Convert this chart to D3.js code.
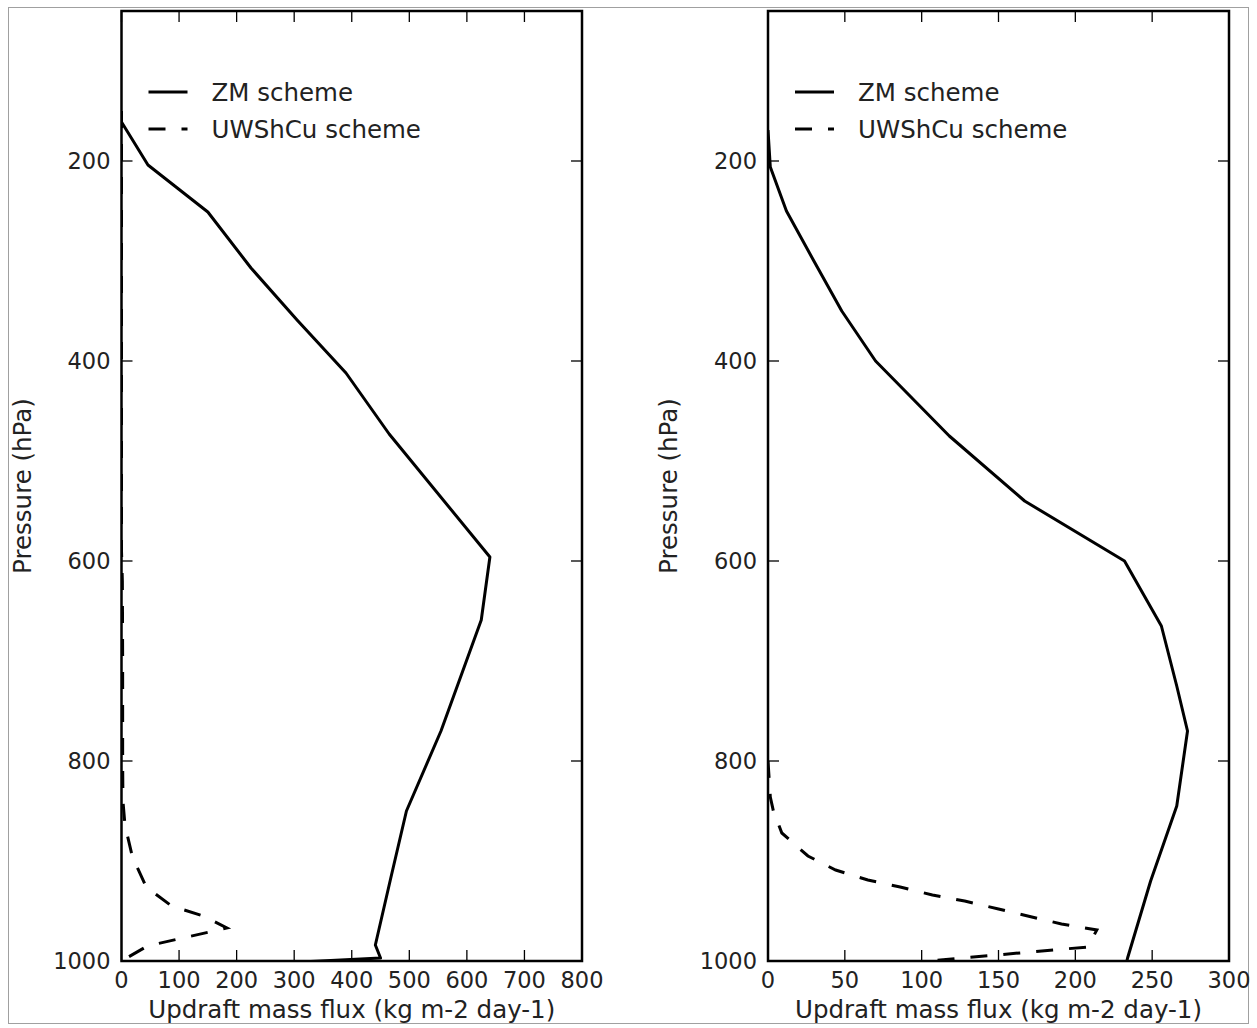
<!DOCTYPE html>
<html>
<head>
<meta charset="utf-8">
<script src="https://cdn.jsdelivr.net/npm/d3@7"></script>
<style>
  html, body { margin: 0; padding: 0; background: #fff; }
  svg text { font-family: "DejaVu Sans", sans-serif; fill: #222; }
</style>
</head>
<body>
<svg id="chart" width="1257" height="1028"></svg>
<script>
// ---------- data (pressure in hPa, flux in kg m-2 day-1) ----------
const seriesNames = ["ZM scheme", "UWShCu scheme"];
const yTicks = [200, 400, 600, 800, 1000];
const xTicksLeft = [0, 100, 200, 300, 400, 500, 600, 700, 800];
const xTicksRight = [0, 50, 100, 150, 200, 250, 300];

// left panel
const zmLeftP   = [161, 204, 251, 307, 359, 412, 473, 596, 659, 770, 850, 919, 984, 997, 1010];
const zmLeftV   = [0, 46, 150, 225, 305, 390, 465, 640, 625, 555, 495, 467, 441, 450, 0];
const uwLeftP   = [150, 590, 620, 700, 800, 840, 864, 896, 926, 945, 955, 967, 985, 1000];
const uwLeftV   = [0, 0, 1.5, 2, 2, 2.5, 6, 19, 43, 87, 142, 183, 45, 0];

// right panel
const zmRightP  = [169, 206, 250, 299, 350, 400, 475, 540, 600, 665, 725, 770, 845, 920, 997, 1010];
const zmRightV  = [0, 1.5, 12, 29.5, 48, 70, 118, 167, 232, 256, 266, 273, 266, 249, 234, 232];
const uwRightP  = [800, 836, 850, 872, 895, 909, 919, 926, 934, 940, 948, 955, 963, 969, 986, 1005];
const uwRightV  = [0, 1.5, 3.5, 9, 26, 44, 65, 86, 107, 128, 150, 169, 191, 214, 208, 67];

const zip = (p, v) => p.map((d, i) => ({ p: d, v: v[i] }));

const svg = d3.select("#chart");

// outer frame
svg.append("rect").attr("x", 8.5).attr("y", 7.5).attr("width", 1240).attr("height", 1016)
  .attr("fill", "none").attr("stroke", "#a0a0a0").attr("stroke-width", 1);

const FS = 22.5;   // tick labels
const FL = 24.5;   // axis labels & legend
const yScale = d3.scaleLinear().domain([50, 1000]).range([11, 961]);

const panels = [
  { id: "L", x0: 121.5, x1: 582, xmax: 800, xticks: xTicksLeft, ylabX: 31,
    zm: zip(zmLeftP, zmLeftV), uw: zip(uwLeftP, uwLeftV) },
  { id: "R", x0: 768, x1: 1229, xmax: 300, xticks: xTicksRight, ylabX: 677,
    zm: zip(zmRightP, zmRightV), uw: zip(uwRightP, uwRightV) }
];

const defs = svg.append("defs");

panels.forEach(pn => {
  const x = d3.scaleLinear().domain([0, pn.xmax]).range([pn.x0, pn.x1]);
  const [yt, yb] = yScale.range();
  const g = svg.append("g");

  defs.append("clipPath").attr("id", "clip" + pn.id)
    .append("rect").attr("x", pn.x0).attr("y", yt).attr("width", pn.x1 - pn.x0).attr("height", yb - yt);

  const line = d3.line().x(d => x(d.v)).y(d => yScale(d.p));

  const plot = g.append("g").attr("clip-path", `url(#clip${pn.id})`);
  plot.append("path").datum(pn.uw).attr("d", line)
    .attr("fill", "none").attr("stroke", "#000").attr("stroke-width", 3)
    .attr("stroke-dasharray", "17,16");
  plot.append("path").datum(pn.zm).attr("d", line)
    .attr("fill", "none").attr("stroke", "#000").attr("stroke-width", 3)
    .attr("stroke-linejoin", "round");

  // ticks (inward, all four sides)
  const tl = 11;
  pn.xticks.forEach(t => {
    const xx = x(t);
    g.append("line").attr("x1", xx).attr("x2", xx).attr("y1", yb).attr("y2", yb - tl)
      .attr("stroke", "#000").attr("stroke-width", 1.3);
    g.append("line").attr("x1", xx).attr("x2", xx).attr("y1", yt).attr("y2", yt + tl)
      .attr("stroke", "#000").attr("stroke-width", 1.3);
    g.append("text").attr("x", xx).attr("y", yb + 27).attr("text-anchor", "middle")
      .attr("font-size", FS).text(t);
  });
  yTicks.forEach(t => {
    const yy = yScale(t);
    g.append("line").attr("x1", pn.x0).attr("x2", pn.x0 + tl).attr("y1", yy).attr("y2", yy)
      .attr("stroke", "#000").attr("stroke-width", 1.3);
    g.append("line").attr("x1", pn.x1).attr("x2", pn.x1 - tl).attr("y1", yy).attr("y2", yy)
      .attr("stroke", "#000").attr("stroke-width", 1.3);
    g.append("text").attr("x", pn.x0 - 11).attr("y", yy + 8).attr("text-anchor", "end")
      .attr("font-size", FS).text(t);
  });

  // frame
  g.append("rect").attr("x", pn.x0).attr("y", yt).attr("width", pn.x1 - pn.x0).attr("height", yb - yt)
    .attr("fill", "none").attr("stroke", "#000").attr("stroke-width", 2.5);

  // axis labels
  g.append("text").attr("x", (pn.x0 + pn.x1) / 2).attr("y", 1018).attr("text-anchor", "middle")
    .attr("font-size", FL).text("Updraft mass flux (kg m-2 day-1)");
  g.append("text").attr("transform", `translate(${pn.ylabX},${(yt + yb) / 2}) rotate(-90)`)
    .attr("text-anchor", "middle").attr("font-size", FL).text("Pressure (hPa)");

  // legend
  const lx = pn.x0 + 27, ly1 = 92, ly2 = 129;
  g.append("line").attr("x1", lx).attr("x2", lx + 39).attr("y1", ly1).attr("y2", ly1)
    .attr("stroke", "#000").attr("stroke-width", 3);
  g.append("line").attr("x1", lx).attr("x2", lx + 39).attr("y1", ly2).attr("y2", ly2)
    .attr("stroke", "#000").attr("stroke-width", 3).attr("stroke-dasharray", "17,16");
  g.append("text").attr("x", lx + 63).attr("y", ly1 + 8.5).attr("font-size", FL).text(seriesNames[0]);
  g.append("text").attr("x", lx + 63).attr("y", ly2 + 8.5).attr("font-size", FL).text(seriesNames[1]);
});
</script>
</body>
</html>
